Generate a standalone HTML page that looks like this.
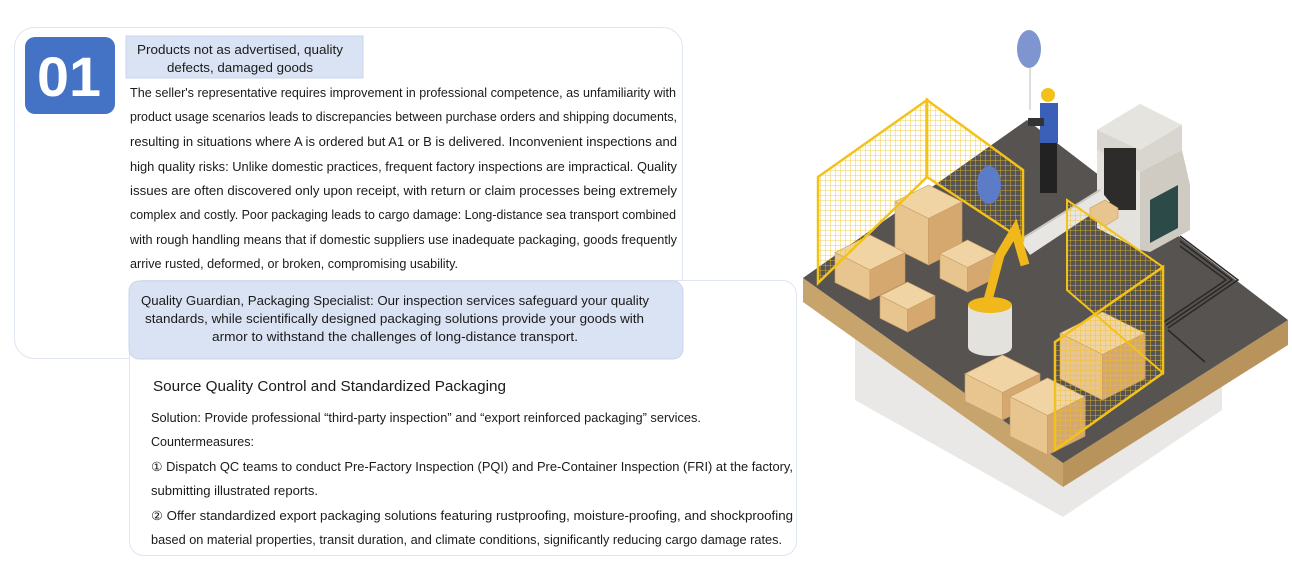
<!DOCTYPE html>
<html><head><meta charset="utf-8"><style>
html,body{margin:0;padding:0;background:#fff;}
svg{display:block;}
text{font-family:"Liberation Sans",sans-serif;fill:#1a1a1a;}
</style></head><body>
<svg width="1292" height="585" viewBox="0 0 1292 585" xmlns="http://www.w3.org/2000/svg">
<defs>
<pattern id="mesh" width="5" height="5" patternUnits="userSpaceOnUse">
<path d="M0,0 L5,0 M0,0 L0,5" stroke="#f2c21b" stroke-width="0.8" fill="none"/>
</pattern>
</defs>
<!-- outer boxes -->
<rect x="14.5" y="27.5" width="668" height="331" rx="20" fill="#fff" stroke="#dfe5f3" stroke-width="1"/>
<rect x="129.5" y="280.5" width="667" height="275" rx="14" fill="#fff" stroke="#dfe5f3" stroke-width="1"/>
<rect x="129" y="281" width="554" height="78" rx="10" fill="#dae3f3" stroke="#c9d5ee"/>
<rect x="25" y="37" width="90" height="77" rx="10" fill="#4472c4"/>
<text x="69" y="96" text-anchor="middle" font-size="56" font-weight="bold" style="fill:#fff" textLength="64" lengthAdjust="spacingAndGlyphs">01</text>
<rect x="126" y="36" width="237" height="42" fill="#dae3f3" stroke="#c9d5ee"/>
<g font-size="13">
<text x="137" y="54" textLength="206" lengthAdjust="spacingAndGlyphs">Products not as advertised, quality</text>
<text x="167" y="72" textLength="146" lengthAdjust="spacingAndGlyphs">defects, damaged goods</text>
</g>
<g font-size="12.5">
<text x="130" y="97" textLength="546" lengthAdjust="spacingAndGlyphs">The seller's representative requires improvement in professional competence, as unfamiliarity with</text>
<text x="130" y="121" textLength="547" lengthAdjust="spacingAndGlyphs">product usage scenarios leads to discrepancies between purchase orders and shipping documents,</text>
<text x="130" y="146" textLength="547" lengthAdjust="spacingAndGlyphs">resulting in situations where A is ordered but A1 or B is delivered. Inconvenient inspections and</text>
<text x="130" y="171" textLength="547" lengthAdjust="spacingAndGlyphs">high quality risks: Unlike domestic practices, frequent factory inspections are impractical. Quality</text>
<text x="130" y="195" textLength="547" lengthAdjust="spacingAndGlyphs">issues are often discovered only upon receipt, with return or claim processes being extremely</text>
<text x="130" y="219" textLength="546" lengthAdjust="spacingAndGlyphs">complex and costly. Poor packaging leads to cargo damage: Long-distance sea transport combined</text>
<text x="130" y="244" textLength="547" lengthAdjust="spacingAndGlyphs">with rough handling means that if domestic suppliers use inadequate packaging, goods frequently</text>
<text x="130" y="268" textLength="328" lengthAdjust="spacingAndGlyphs">arrive rusted, deformed, or broken, compromising usability.</text>
</g>
<g font-size="13">
<text x="141" y="305" textLength="508" lengthAdjust="spacingAndGlyphs">Quality Guardian, Packaging Specialist: Our inspection services safeguard your quality</text>
<text x="145" y="323" textLength="499" lengthAdjust="spacingAndGlyphs">standards, while scientifically designed packaging solutions provide your goods with</text>
<text x="212" y="341" textLength="366" lengthAdjust="spacingAndGlyphs">armor to withstand the challenges of long-distance transport.</text>
</g>
<text x="153" y="391" font-size="15" textLength="353" lengthAdjust="spacingAndGlyphs">Source Quality Control and Standardized Packaging</text>
<g font-size="12.5">
<text x="151" y="422" textLength="550" lengthAdjust="spacingAndGlyphs">Solution: Provide professional “third-party inspection” and “export reinforced packaging” services.</text>
<text x="151" y="446" textLength="103" lengthAdjust="spacingAndGlyphs">Countermeasures:</text>
<text x="151" y="471" textLength="642" lengthAdjust="spacingAndGlyphs">① Dispatch QC teams to conduct Pre-Factory Inspection (PQI) and Pre-Container Inspection (FRI) at the factory,</text>
<text x="151" y="495" textLength="167" lengthAdjust="spacingAndGlyphs">submitting illustrated reports.</text>
<text x="151" y="520" textLength="642" lengthAdjust="spacingAndGlyphs">② Offer standardized export packaging solutions featuring rustproofing, moisture-proofing, and shockproofing</text>
<text x="151" y="544" textLength="631" lengthAdjust="spacingAndGlyphs">based on material properties, transit duration, and climate conditions, significantly reducing cargo damage rates.</text>
</g>

<!-- illustration -->
<g>
<polygon points="855,330 1063,440 1222,360 1222,410 1063,517 855,400" fill="#e9e8e6"/>
<polygon points="803,278 1063,463 1063,487 803,302" fill="#c7a46c"/>
<polygon points="1063,463 1288,320 1288,345 1063,487" fill="#b8935c"/>
<polygon points="803,278 1027,120 1288,320 1063,463" fill="#575350"/>
<!-- cables -->
<g fill="none" stroke="#2a2826" stroke-width="1.5">
<path d="M1180,236 L1238,280 L1168,328"/>
<path d="M1180,241 L1232,280 L1166,325"/>
<path d="M1180,246 L1226,280 L1164,322"/>
<path d="M1168,330 L1205,362"/>
</g>
<!-- machine -->
<polygon points="1097,130 1140,104 1182,125 1182,150 1140,172 1097,150" fill="#d9d6cf"/>
<polygon points="1097,130 1140,104 1182,125 1140,150" fill="#e6e4df"/>
<polygon points="1097,150 1140,172 1140,250 1097,228" fill="#e4e2dc"/>
<polygon points="1140,172 1182,150 1190,185 1190,230 1150,252 1140,250" fill="#cfcbc3"/>
<polygon points="1150,200 1178,185 1178,228 1150,243" fill="#2b4a48"/>
<rect x="1104" y="148" width="32" height="62" fill="#2e2c2a"/>
<!-- conveyor -->
<polygon points="1020,240 1100,190 1110,202 1030,255" fill="#e8e6e2"/>
<line x1="1020" y1="240" x2="1100" y2="190" stroke="#c9c6c0" stroke-width="2"/>
<!-- left fence -->
<polygon points="927,100 1023,170 1023,240 927,177" fill="url(#mesh)" stroke="#f2c21b" stroke-width="2.5"/>
<!-- worker -->
<rect x="1040" y="103" width="18" height="40" fill="#3b60b8"/>
<rect x="1040" y="143" width="17" height="50" fill="#222"/>
<rect x="1028" y="118" width="16" height="8" fill="#333"/>
<circle cx="1048" cy="95" r="7" fill="#f2c21b"/>
<ellipse cx="1029" cy="49" rx="12" ry="19" fill="#7e95cf"/>
<line x1="1030" y1="68" x2="1030" y2="110" stroke="#bbb"/>
<ellipse cx="989" cy="185" rx="12" ry="19" fill="#5d7cc7"/>
<!-- boxes -->
<g stroke="#c79d62" stroke-width="0.6">
<g><polygon points="895,201.75 928.5,185 962,201.75 928.5,218.5" fill="#f0d4a4"/><polygon points="895,201.75 928.5,218.5 928.5,265 895,248.25" fill="#e8c48e"/><polygon points="928.5,218.5 962,201.75 962,248.25 928.5,265" fill="#d4a86e"/></g>
<g><polygon points="940,253.75 967.5,240 995,253.75 967.5,267.5" fill="#f0d4a4"/><polygon points="940,253.75 967.5,267.5 967.5,292 940,278.25" fill="#e8c48e"/><polygon points="967.5,267.5 995,253.75 995,278.25 967.5,292" fill="#d4a86e"/></g>
<g><polygon points="835,252.5 870,235 905,252.5 870,270" fill="#f0d4a4"/><polygon points="835,252.5 870,270 870,300 835,282.5" fill="#e8c48e"/><polygon points="870,270 905,252.5 905,282.5 870,300" fill="#d4a86e"/></g>
<g><polygon points="880,295.75 907.5,282 935,295.75 907.5,309.5" fill="#f0d4a4"/><polygon points="880,295.75 907.5,309.5 907.5,332 880,318.25" fill="#e8c48e"/><polygon points="907.5,309.5 935,295.75 935,318.25 907.5,332" fill="#d4a86e"/></g>
<polygon points="1090,208 1105,200 1118,208 1118,218 1105,226 1090,218" fill="#e8c48e"/>
<g><polygon points="1060,333.25 1102.5,312 1145,333.25 1102.5,354.5" fill="#f0d4a4"/><polygon points="1060,333.25 1102.5,354.5 1102.5,400 1060,378.75" fill="#e8c48e"/><polygon points="1102.5,354.5 1145,333.25 1145,378.75 1102.5,400" fill="#d4a86e"/></g>
<g><polygon points="965,373.75 1002.5,355 1040,373.75 1002.5,392.5" fill="#f0d4a4"/><polygon points="965,373.75 1002.5,392.5 1002.5,420 965,401.25" fill="#e8c48e"/><polygon points="1002.5,392.5 1040,373.75 1040,401.25 1002.5,420" fill="#d4a86e"/></g>
<g><polygon points="1010,396.75 1047.5,378 1085,396.75 1047.5,415.5" fill="#f0d4a4"/><polygon points="1010,396.75 1047.5,415.5 1047.5,455 1010,436.25" fill="#e8c48e"/><polygon points="1047.5,415.5 1085,396.75 1085,436.25 1047.5,455" fill="#d4a86e"/></g>
</g>
<!-- robot -->
<rect x="968" y="305" width="44" height="42" fill="#e4e2dc"/>
<ellipse cx="990" cy="347" rx="22" ry="9" fill="#e4e2dc"/>
<ellipse cx="990" cy="305" rx="22" ry="8" fill="#f0b81a"/>
<path d="M988,300 L1000,255 L1015,230 L1025,265" fill="none" stroke="#f0b81a" stroke-width="9"/>
<!-- left fence front panel -->
<polygon points="818,177 927,100 927,177 818,283" fill="url(#mesh)" stroke="#f2c21b" stroke-width="2.5"/>
<!-- right fence -->
<polygon points="1067,200 1163,267 1163,373 1067,290" fill="url(#mesh)" stroke="#f2c21b" stroke-width="2"/>
<polygon points="1055,342 1163,267 1163,373 1055,450" fill="url(#mesh)" stroke="#f2c21b" stroke-width="2.5"/>
</g>
</svg>
</body></html>
